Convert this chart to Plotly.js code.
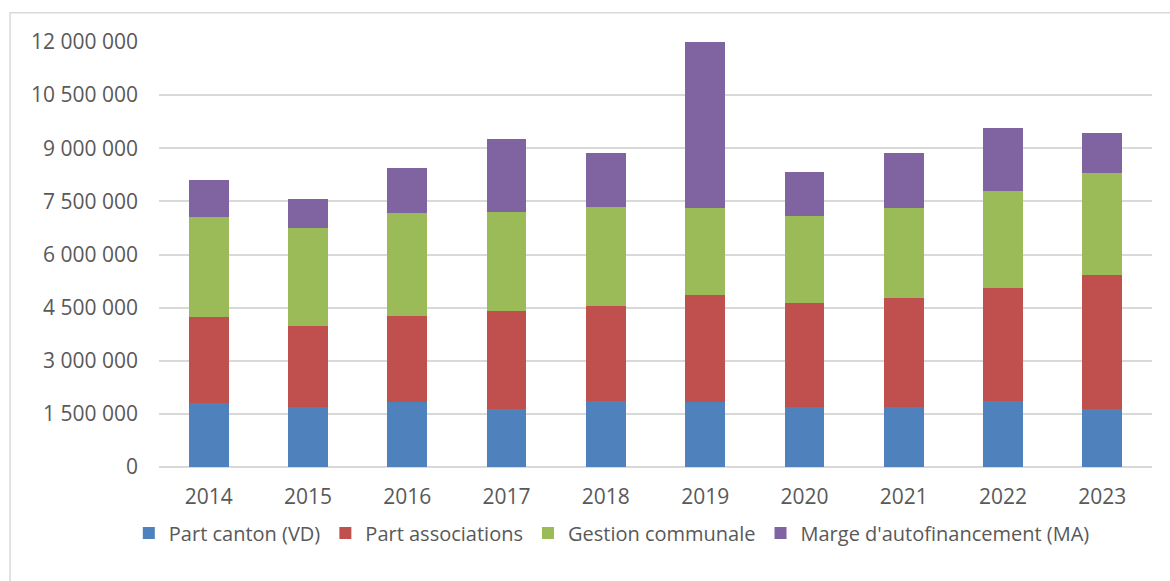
<!DOCTYPE html>
<html>
<head>
<meta charset="utf-8">
<script src="https://cdn.plot.ly/plotly-3.0.1.min.js"></script>
<style>
  html, body { margin: 0; padding: 0; background: #fff; }
  #chart { width: 1170px; height: 581px; }
</style>
</head>
<body>
<div id="chart"></div>
<script>
const years = ['2014', '2015', '2016', '2017', '2018', '2019', '2020', '2021', '2022', '2023'];

// values (CHF)
const partCanton = [1800000, 1695000, 1837000, 1630000, 1874000, 1837000, 1687000, 1687000, 1874000, 1630000];
const partAssociations = [2430000, 2281000, 2430000, 2778000, 2684000, 3015000, 2939000, 3088000, 3192000, 3795000];
const gestionCommunale = [2826000, 2786000, 2902000, 2797000, 2789000, 2458000, 2466000, 2535000, 2713000, 2863000];
const margeAutofin = [1054000, 802000, 1260000, 2063000, 1517000, 4720000, 1235000, 1554000, 1791000, 1130000];

const yTicks = [0, 1500000, 3000000, 4500000, 6000000, 7500000, 9000000, 10500000, 12000000];

const font = '"Open Sans", Lato, sans-serif';
const textColor = '#595959';

function barTrace(name, values, color) {
    return {
        x: years,
        y: values,
        name: name,
        type: 'bar',
        marker: { color: color, line: { width: 0 } },
        hoverinfo: 'x+y+name'
    };
}

const data = [
    barTrace('Part canton (VD)', partCanton, '#4F81BD'),
    barTrace('Part associations', partAssociations, '#C0504D'),
    barTrace('Gestion communale', gestionCommunale, '#9BBB59'),
    barTrace("Marge d'autofinancement (MA)", margeAutofin, '#8064A2')
];

const layout = {
    width: 1170,
    height: 581,
    margin: { l: 159, r: 18, t: 42, b: 114 },
    paper_bgcolor: '#ffffff',
    plot_bgcolor: '#ffffff',
    separators: ', ',
    barmode: 'stack',
    bargap: 0.6,
    font: { family: font, size: 21, color: textColor },
    xaxis: {
        type: 'category',
        showgrid: false,
        showline: false,
        zeroline: false,
        ticks: '',
        ticklabelstandoff: 15,
        tickfont: { family: font, size: 21, color: textColor }
    },
    yaxis: {
        range: [0, 12000000],
        tickvals: yTicks,
        tickformat: ',d',
        showgrid: true,
        gridcolor: '#D9D9D9',
        gridwidth: 2,
        zeroline: true,
        zerolinecolor: '#D9D9D9',
        zerolinewidth: 2,
        showline: false,
        ticks: '',
        ticklabelstandoff: 20,
        tickfont: { family: font, size: 21, color: textColor }
    },
    showlegend: true,
    legend: {
        orientation: 'h',
        x: 0.456,
        xanchor: 'center',
        y: -0.155,
        yanchor: 'middle',
        traceorder: 'normal',
        font: { family: font, size: 20, color: textColor },
        itemwidth: 30,
        bgcolor: 'rgba(0,0,0,0)'
    },
    shapes: [{
        type: 'rect',
        xref: 'paper',
        yref: 'paper',
        x0: -0.150,
        x1: 1.2,
        y0: -0.5,
        y1: 1.069,
        line: { color: '#D9D9D9', width: 1.5 },
        fillcolor: 'rgba(0,0,0,0)',
        layer: 'below'
    }]
};

Plotly.newPlot('chart', data, layout, { displayModeBar: false, staticPlot: true });
</script>
</body>
</html>
